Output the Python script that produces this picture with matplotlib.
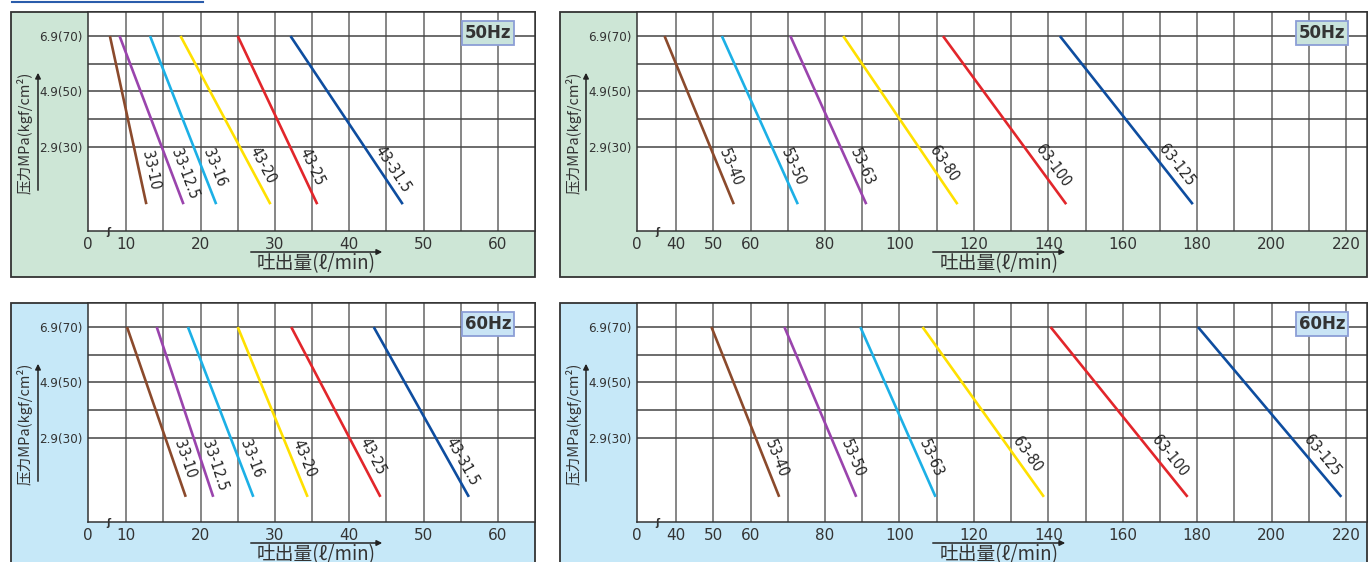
import matplotlib.pyplot as plt
import matplotlib.patches as mpatches
import matplotlib.lines as mlines
import numpy as np

W, H = 1370, 562

# pressure in kgf/cm2, flow in l/min
p_top = 70
p_bot_50 = 9.2
p_bot_60 = 8.6
yticks = [30, 50, 70]
ytick_labels = ["2.9(30)", "4.9(50)", "6.9(70)"]
ygrid = [30, 40, 50, 60, 70]

small_names = ["33-10", "33-12.5", "33-16", "43-20", "43-25", "43-31.5"]
small_50_top = [7.8, 9.1, 13.2, 17.3, 25.0, 32.1]
small_50_bot = [12.7, 17.7, 22.1, 29.4, 35.7, 47.2]
small_60_top = [10.1, 14.1, 18.3, 25.0, 32.2, 43.3]
small_60_bot = [18.0, 21.7, 27.1, 34.4, 44.2, 56.1]

large_50_names = ["53-40", "53-50", "53-63", "63-80", "63-100", "63-125"]
large_50_top = [36.9, 52.3, 70.7, 84.9, 111.7, 143.1]
large_50_bot = [55.5, 72.7, 91.1, 115.6, 144.8, 178.8]
large_60_names = ["53-40", "53-50", "53-63", "63-80", "63-100", "63-125"]
large_60_top = [49.5, 69.1, 89.5, 106.2, 140.6, 180.2]
large_60_bot = [67.7, 88.4, 109.7, 138.8, 177.4, 218.7]

small_xticks = [10, 20, 30, 40, 50, 60]
small_xgrid = [10, 15, 20, 25, 30, 35, 40, 45, 50, 55, 60]
large_xticks = [40, 50, 60, 80, 100, 120, 140, 160, 180, 200, 220]
large_xgrid = [40, 50, 60, 70, 80, 90, 100, 110, 120, 130, 140, 150, 160, 170, 180, 190, 200, 210, 220]

brown, purple, cyan = "#8b4a2c", "#9a44ad", "#1cb0e6"
yellow, red, blue = "#ffe000", "#e2262b", "#0e4d9f"
small_colors = [brown, purple, cyan, yellow, red, blue]
large_50_colors = [brown, cyan, purple, yellow, red, blue]
large_60_colors = [brown, purple, cyan, yellow, red, blue]

green_bg, blue_bg = "#cde6d6", "#c6e8f8"

cjk = ["Noto Sans CJK SC", "DejaVu Sans"]

fig = plt.figure(figsize=(W / 100, H / 100), dpi=100)


def fx(x):
    return x / W


def fy(y):
    return 1 - y / H


def panel(pl, ql, r, t, pb, panb, bg, xlim, xgrid, xticks, names, qtop, qbot,
          pbot, colors, hz, hz_bg, hz_cx, ylab_x, arr_x, xl_x0, xl_x1):
    fig.add_artist(mpatches.Rectangle((fx(pl), fy(panb)), fx(r - pl), (panb - t) / H,
                                      transform=fig.transFigure, fc=bg, ec="#333333",
                                      lw=1.3, zorder=-1))
    ax = fig.add_axes([fx(ql), fy(pb), fx(r - ql), (pb - t) / H])
    ax.set_facecolor("white")
    ax.set_xlim(*xlim)
    ax.set_ylim(-0.5, 78.7)
    for g in xgrid:
        ax.axvline(g, color="#666666", lw=1.1, zorder=1)
    for g in ygrid:
        ax.axhline(g, color="#444444", lw=1.1, zorder=1)
    for s in ax.spines.values():
        s.set_color("#333333")
        s.set_linewidth(1.1)
    ax.set_xticks([xlim[0]] + xticks)
    ax.set_xticklabels(["0"] + [str(v) for v in xticks])
    ax.set_yticks(yticks)
    ax.set_yticklabels(ytick_labels, fontsize=9.5, fontstretch="condensed", color="#333333")
    ax.tick_params(length=0, pad=4)
    ax.tick_params(axis="x", labelsize=11, labelcolor="#333333", pad=4)

    for name, q0, q1, c in zip(names, qtop, qbot, colors):
        ax.plot([q0, q1], [p_top, pbot], color=c, lw=1.9, solid_capstyle="butt", zorder=3)
        ang = np.degrees(np.arctan2(pbot - p_top, q1 - q0))
        ang = ax.transData.transform_angles(np.array([ang]), np.array([[q0, p_top]]))[0]
        ya = 27.5
        xa = q0 + (p_top - ya) / (p_top - pbot) * (q1 - q0)
        th = np.radians(ang)
        d = 4
        ax.annotate(name, xy=(xa, ya), xytext=(-np.sin(th) * d, np.cos(th) * d),
                    textcoords="offset pixels", rotation=ang, rotation_mode="anchor",
                    ha="left", va="bottom", fontsize=11, fontstretch="condensed",
                    color="#222222", zorder=4)

    # break mark on the flow axis
    fig.text(fx(ql + 20), fy(pb + 1), "ʃ", fontsize=7, fontweight="bold",
             ha="center", va="center", color="#333333")

    fig.text(fx(hz_cx), fy(t + 21), hz, fontsize=12, fontweight="bold",
             ha="center", va="center", color="#333333",
             bbox=dict(boxstyle="square,pad=0.18", fc=hz_bg, ec="#8c9ed6", lw=1.3))

    # axis titles with arrows
    fig.text(fx(ylab_x), fy(t + 121), "压力MPa(kgf/cm²)", rotation=90, fontsize=10.5,
             family=cjk, ha="center", va="center", color="#333333")
    fig.add_artist(mpatches.FancyArrowPatch((fx(arr_x), fy(t + 181)), (fx(arr_x), fy(t + 58)),
                                            transform=fig.transFigure, arrowstyle="-|>",
                                            mutation_scale=8, lw=1.1, color="#222222"))
    fig.text(fx((xl_x0 + xl_x1) / 2), fy(pb + 33), "吐出量(ℓ/min)", fontsize=13.5,
             family=cjk, ha="center", va="center", color="#333333")
    fig.add_artist(mpatches.FancyArrowPatch((fx(xl_x0), fy(pb + 21)), (fx(xl_x1), fy(pb + 21)),
                                            transform=fig.transFigure, arrowstyle="-|>",
                                            mutation_scale=8, lw=1.1, color="#222222"))
    return ax


small_xlim = (4.85, 65.0)
large_xlim = (29.5, 225.6)

panel(11, 88, 535, 12, 231, 277, green_bg, small_xlim, small_xgrid, small_xticks,
      small_names, small_50_top, small_50_bot, p_bot_50, small_colors,
      "50Hz", "#c9e3dc", 488, 25, 38, 248, 385)
panel(560, 637, 1367, 12, 231, 277, green_bg, large_xlim, large_xgrid, large_xticks,
      large_50_names, large_50_top, large_50_bot, p_bot_50, large_50_colors,
      "50Hz", "#c9e3dc", 1322, 574, 586, 930, 1068)
panel(11, 88, 535, 303, 522, 600, blue_bg, small_xlim, small_xgrid, small_xticks,
      small_names, small_60_top, small_60_bot, p_bot_60, small_colors,
      "60Hz", "#c9e4f5", 488, 25, 38, 248, 385)
panel(560, 637, 1367, 303, 522, 600, blue_bg, large_xlim, large_xgrid, large_xticks,
      large_60_names, large_60_top, large_60_bot, p_bot_60, large_60_colors,
      "60Hz", "#c9e4f5", 1322, 574, 586, 930, 1068)

# header rule
fig.add_artist(mlines.Line2D([fx(12), fx(203)], [fy(1.5), fy(1.5)], color="#2a5cab", lw=1.5))

fig.savefig("out.png", dpi=100)
